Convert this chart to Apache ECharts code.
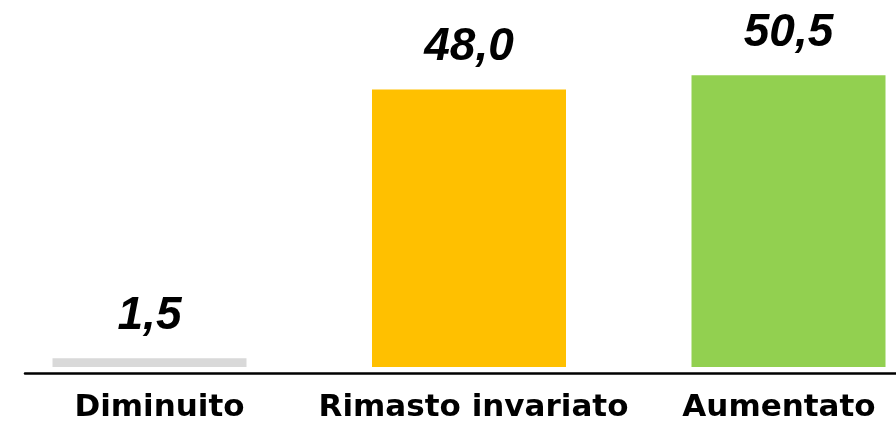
<!DOCTYPE html>
<html>
<head>
<meta charset="utf-8">
<script src="https://cdn.jsdelivr.net/npm/echarts@6/dist/echarts.min.js"></script>
<style>html,body{margin:0;padding:0;background:#fff;}#c{width:896px;height:425px;}</style>
</head>
<body>
<div id="c"></div>
<script>
const categories = ['Diminuito', 'Rimasto invariato', 'Aumentato'];
const values = [1.5, 48.0, 50.5];
const colors = ['#d9d9d9', '#ffc000', '#92d050'];

const labelStyle = { color: '#000', fontFamily: 'DejaVu Sans', fontWeight: 'bold', fontSize: 31 };
const chart = echarts.init(document.getElementById('c'));
chart.setOption({
  animation: false,
  grid: [
    { left: -10.25, width: 958.5, top: 0, bottom: 58, containLabel: false, outerBoundsMode: 'none' },
    { left: 25, right: 0, bottom: 52, height: 0, outerBoundsMode: 'none' }
  ],
  xAxis: [
    {
      type: 'category', data: categories, gridIndex: 0,
      axisLine: { show: false }, axisTick: { show: false },
      axisLabel: {
        interval: 0, margin: 25, color: '#000',
        fontFamily: 'DejaVu Sans', fontWeight: 'bold', fontSize: 31,
        formatter: (v, i) => '{c' + i + '|' + v + '}',
        rich: {
          c0: Object.assign({ padding: [0, 0, 0, 20] }, labelStyle),
          c1: Object.assign({ padding: [0, 0, 0, 9] }, labelStyle),
          c2: Object.assign({ padding: [0, 19, 0, 0] }, labelStyle)
        }
      }
    },
    {
      type: 'value', gridIndex: 1, min: 0, max: 1,
      axisLine: { show: true, lineStyle: { color: '#000', width: 2.5 } },
      axisTick: { show: false }, axisLabel: { show: false }, splitLine: { show: false }
    }
  ],
  yAxis: [
    { type: 'value', gridIndex: 0, min: 0, max: 63.5, show: false, splitLine: { show: false } },
    { type: 'value', gridIndex: 1, show: false, splitLine: { show: false } }
  ],
  series: [{
    type: 'bar', xAxisIndex: 0, yAxisIndex: 0,
    barWidth: 194,
    data: values.map((v, i) => ({ value: v, itemStyle: { color: colors[i] } })),
    label: {
      show: true, position: 'top', distance: 19,
      color: '#000', fontFamily: 'Liberation Sans', fontStyle: 'italic', fontWeight: 'bold', fontSize: 46,
      formatter: p => p.value.toFixed(1).replace('.', ',')
    }
  }]
});
</script>
</body>
</html>
